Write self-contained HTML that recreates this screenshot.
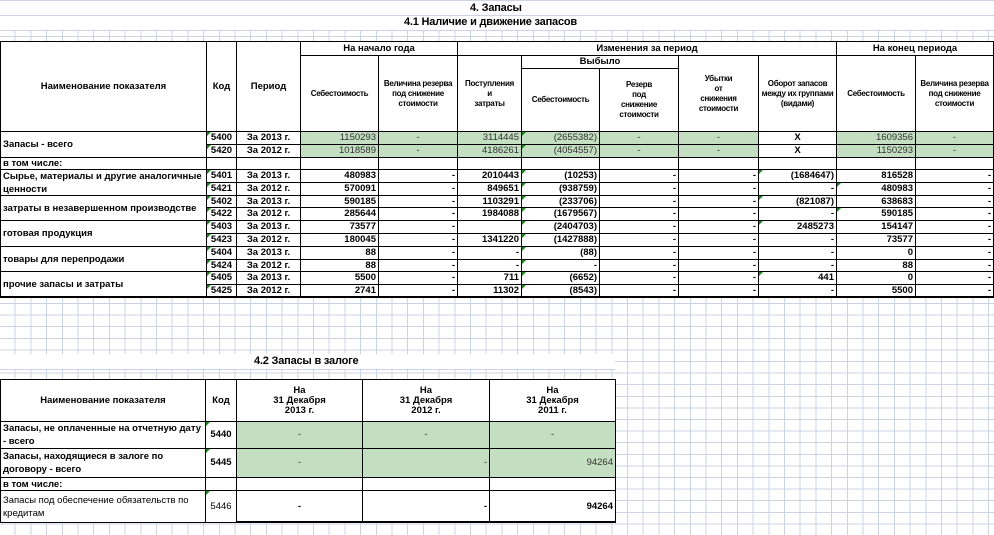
<!DOCTYPE html>
<html><head><meta charset="utf-8"><style>
body{margin:0;width:994px;height:535px;overflow:hidden;position:relative;background-color:#fff;
background-image:repeating-linear-gradient(90deg,transparent 0,transparent 14.7px,#cbd4e4 14.7px,#cbd4e4 15.7px),repeating-linear-gradient(0deg,transparent 0,transparent 10.6px,#cbd4e4 10.6px,#cbd4e4 11.6px);
font-family:"Liberation Sans",Arial,sans-serif;font-weight:bold;font-size:8px;color:#000;}
.c{position:absolute;box-sizing:border-box;border:1px solid #000;background:#fff;display:flex;align-items:center;justify-content:center;text-align:center;line-height:10px;letter-spacing:-0.3px;overflow:hidden;white-space:nowrap;padding:0 2px}
.g{background:#c3dec1;font-weight:normal;color:#333}
.r{justify-content:flex-end}
.l{justify-content:flex-start;text-align:left;white-space:normal;font-size:9.5px;line-height:13px;letter-spacing:0}
.nm{font-size:9.5px;letter-spacing:0}
.t{position:absolute;font-size:11px;letter-spacing:-0.2px;white-space:nowrap}
.band{position:absolute;left:0;width:994px;background:#fff;border-bottom:1px solid #cbd4e4;box-sizing:border-box}
.tri{position:absolute;width:0;height:0;border-top:4px solid #1a8a1a;border-right:4px solid transparent}
</style></head><body>
<div class="band" style="top:0;height:16px;border-top:1px solid #cbd4e4"></div>
<div class="band" style="top:16px;height:15px"></div>
<div class="t" style="left:470px;top:2px">4. Запасы</div>
<div class="t" style="left:404px;top:16px">4.1 Наличие и движение запасов</div>
<div id="root"></div>
<div class="band" style="top:354px;height:16px;width:615px"></div>
<div class="t" style="left:254px;top:355px">4.2 Запасы в залоге</div>
<script>
var R=document.getElementById('root'),h='';
function c(x1,y1,x2,y2,t,cl){h+='<div class="c '+(cl||'')+'" style="left:'+x1+'px;top:'+y1+'px;width:'+(x2-x1+1)+'px;height:'+(y2-y1+1)+'px">'+t+'</div>';}
function tri(x,y){h+='<div class="tri" style="left:'+(x+1)+'px;top:'+(y+1)+'px"></div>';}
var X=[0,206,236,300,378,457,521,599,678,758,836,915,993];
c(0,41,206,131,'Наименование показателя','nm');c(206,41,236,131,'Код','nm');c(236,41,300,131,'Период','nm');
c(300,41,457,55,'На начало года','nm');c(457,41,836,55,'Изменения за период','nm');c(836,41,993,55,'На конец периода','nm');
c(300,55,378,131,'Себестоимость');c(378,55,457,131,'Величина резерва<br>под снижение<br>стоимости');
c(457,55,521,131,'Поступления<br>и<br>затраты');c(521,55,678,68,'Выбыло','nm');
c(521,68,599,131,'Себестоимость');c(599,68,678,131,'Резерв<br>под<br>снижение<br>стоимости');
c(678,55,758,131,'Убытки<br>от<br>снижения<br>стоимости');c(758,55,836,131,'Оборот запасов<br>между их группами<br>(видами)');
c(836,55,915,131,'Себестоимость');c(915,55,993,131,'Величина резерва<br>под снижение<br>стоимости');
var T=[['5400','За 2013 г.','1150293','-','3114445','(2655382)','-','-','X','1609356','-'],['5420','За 2012 г.','1018589','-','4186261','(4054557)','-','-','X','1150293','-']];
c(0,131,206,157,'Запасы - всего','l');
T.forEach(function(r,i){var y1=131+i*13,y2=y1+13;c(206,y1,236,y2,r[0],'nm');tri(206,y1);c(236,y1,300,y2,r[1],'nm');
for(var k=2;k<11;k++){var col=k+1,v=r[k];var cl=(k==8)?'nm':'g nm';if(v!='-'&&k!=8)cl+=' r';c(X[col],y1,X[col+1],y2,v,cl);}tri(521,y1);});
c(0,157,206,169,'в том числе:','l');for(var k=1;k<12;k++)c(X[k],157,X[k+1],169,'');
var D=[['5401','За 2013 г.','480983','-','2010443','(10253)','-','-','(1684647)','816528','-'],
['5421','За 2012 г.','570091','-','849651','(938759)','-','-','-','480983','-'],
['5402','За 2013 г.','590185','-','1103291','(233706)','-','-','(821087)','638683','-'],
['5422','За 2012 г.','285644','-','1984088','(1679567)','-','-','-','590185','-'],
['5403','За 2013 г.','73577','-','','(2404703)','-','-','2485273','154147','-'],
['5423','За 2012 г.','180045','-','1341220','(1427888)','-','-','-','73577','-'],
['5404','За 2013 г.','88','-','-','(88)','-','-','-','0','-'],
['5424','За 2012 г.','88','-','-','-','-','-','-','88','-'],
['5405','За 2013 г.','5500','-','711','(6652)','-','-','441','0','-'],
['5425','За 2012 г.','2741','-','11302','(8543)','-','-','-','5500','-']];
var N=['Сырье, материалы и другие аналогичные ценности','затраты в незавершенном производстве','готовая продукция','товары для перепродажи','прочие запасы и затраты'];
N.forEach(function(n,i){c(0,Math.round(169+i*25.6),206,Math.round(169+(i+1)*25.6),n,'l');});
D.forEach(function(r,i){var y1=Math.round(169+i*12.8),y2=Math.round(169+(i+1)*12.8);c(206,y1,236,y2,r[0],'nm');tri(206,y1);c(236,y1,300,y2,r[1],'nm');
for(var k=2;k<11;k++)c(X[k+1],y1,X[k+2],y2,r[k],'r nm');tri(521,y1);if(r[8]!='-'&&i%2==0)tri(758,y1);if(i%2==1&&i<4)tri(836,y1);});
h+='<div style="position:absolute;left:0;top:296px;width:994px;height:2px;background:#000"></div>';
c(0,379,205,421,'Наименование показателя','nm');c(205,379,236,421,'Код','nm');
c(236,379,362,421,'На<br>31 Декабря<br>2013 г.','nm');c(362,379,489,421,'На<br>31 Декабря<br>2012 г.','nm');c(489,379,615,421,'На<br>31 Декабря<br>2011 г.','nm');
c(0,421,205,448,'Запасы, не оплаченные на отчетную дату - всего','l');c(205,421,236,448,'5440','nm');tri(205,421);
c(236,421,362,448,'-','g nm');c(362,421,489,448,'-','g nm');c(489,421,615,448,'-','g nm');
c(0,448,205,477,'Запасы, находящиеся в залоге по договору - всего','l');c(205,448,236,477,'5445','nm');tri(205,448);
c(236,448,362,477,'-','g nm');c(362,448,489,477,'-','g r nm');c(489,448,615,477,'94264','g r nm');
c(0,477,205,490,'в том числе:','l');c(205,477,236,490,'');c(236,477,362,490,'');c(362,477,489,490,'');c(489,477,615,490,'');
c(0,490,205,522,'<span style="font-weight:normal">Запасы под обеспечение обязательств по кредитам</span>','l');c(205,490,236,522,'<span style="font-weight:normal">5446</span>','nm');tri(205,490);
c(236,490,362,522,'-','nm');c(362,490,489,522,'-','r nm');c(489,490,615,522,'94264','r nm');
h+='<div style="position:absolute;left:236px;top:521px;width:380px;height:2px;background:#000"></div>';
R.innerHTML=h;
</script>
</body></html>
